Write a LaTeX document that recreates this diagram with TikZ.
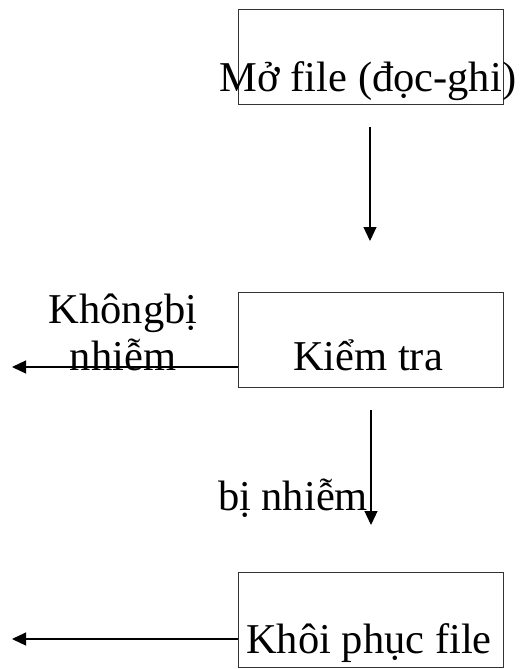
\documentclass[tikz,border=0pt]{standalone}
\usepackage{fontspec}
\setmainfont{Liberation Serif}
\usetikzlibrary{arrows.meta}
\begin{document}
\begin{tikzpicture}[x=1pt,y=-1pt,
  stepbox/.style={draw=black!80,line width=1.2pt,rectangle,inner sep=0pt,
    minimum width=265pt,minimum height=95pt,anchor=north west},
  lbl/.style={inner sep=0pt,anchor=base,font=\fontsize{42.5}{48}\selectfont},
  flow/.style={line width=1.1pt,-{Triangle[length=14pt,width=13pt]}}]
\useasboundingbox (0,0) rectangle (522,669);
% boxes
\node[stepbox] (b1) at (238,9) {};
\node[stepbox] (b2) at (238,292) {};
\node[stepbox] (b3) at (238,572) {};
% box texts
\node[lbl] (t1) at (368,91) {Mở file (đọc-ghi)};
\node[lbl] (t2) at (368,370) {Kiểm tra};
\node[lbl] (t3) at (369,653) {Khôi phục file};
% side labels
\node[lbl] (l1) at (123,323) {Khôngbị};
\node[lbl] (l2) at (123,370) {nhiễm};
\node[lbl] (l3) at (293,510) {bị nhiễm};
% connectors
\coordinate (a1s) at (370,127);
\coordinate (a1e) at (370,241);
\coordinate (a2s) at (371,410);
\coordinate (a2e) at (371,525);
\coordinate (k1) at (12,367);
\coordinate (k2) at (12,639);
\draw[flow] (a1s) -- (a1e);
\draw[flow] (a2s) -- (a2e);
\draw[flow] (b2.west |- k1) -- (k1);
\draw[flow] (b3.west |- k2) -- (k2);
\end{tikzpicture}
\end{document}
